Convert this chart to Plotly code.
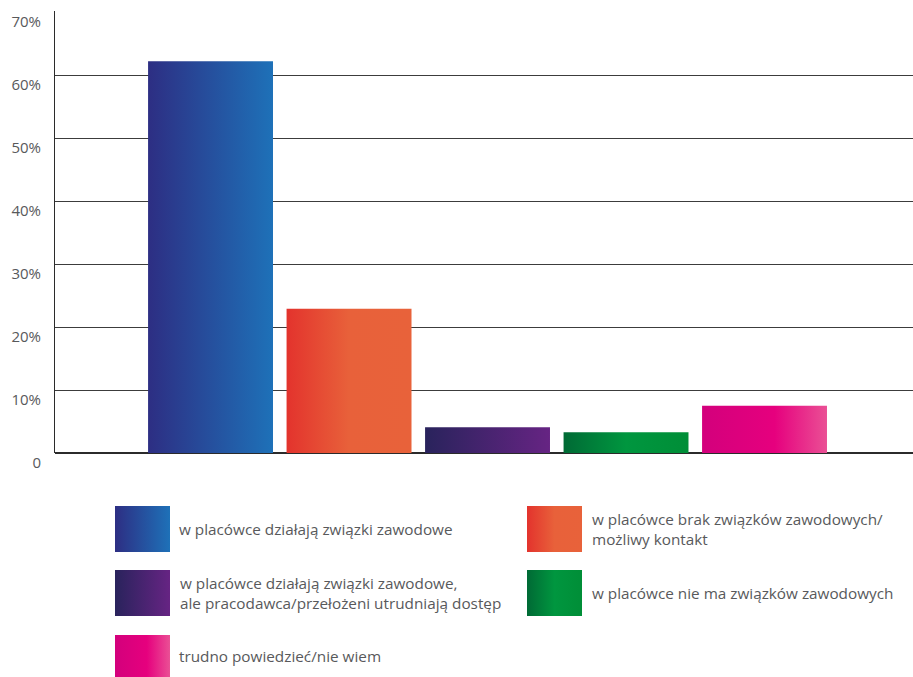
import plotly.graph_objects as go

# ---- data ----
categories = [
    "w placówce działają związki zawodowe",
    "w placówce brak związków zawodowych/<br>możliwy kontakt",
    "w placówce działają związki zawodowe,<br>ale pracodawca/przełożeni utrudniają dostęp",
    "w placówce nie ma związków zawodowych",
    "trudno powiedzieć/nie wiem",
]
values = [62.2, 22.9, 4.1, 3.3, 7.5]
gradients = [
    [[0, "#2d2e83"], [1, "#1e71b8"]],
    [[0, "#e3332d"], [0.5, "#e8613a"], [1, "#e8623a"]],
    [[0, "#29235c"], [1, "#662483"]],
    [[0, "#006a35"], [0.5, "#00963f"], [1, "#008e37"]],
    [[0, "#d3007c"], [0.58, "#e6007e"], [1, "#ea5095"]],
]
tick_vals = [0, 10, 20, 30, 40, 50, 60, 70]
tick_text = ["0", "10%", "20%", "30%", "40%", "50%", "60%", "70%"]

# ---- layout constants (pixels) ----
W, H = 913, 677
half = 0.451
FONT = "Open Sans"
GREY = "#58595b"

fig = go.Figure()

for i, (v, cs) in enumerate(zip(values, gradients)):
    fig.add_trace(go.Scatter(
        x=[i - half, i + half, i + half, i - half, i - half],
        y=[0, 0, v, v, 0],
        mode="lines", fill="toself",
        fillgradient=dict(type="horizontal", colorscale=cs),
        line=dict(width=0, color="rgba(0,0,0,0)"),
        hoverinfo="skip", showlegend=False,
        xaxis="x", yaxis="y",
    ))

# legend swatches in pixel-space overlay axes
legend_pos = [  # (x0, y0, x1, y1, text_x)
    (115, 506, 170, 552, 177),
    (527, 506, 582, 552, 590),
    (115, 570, 170, 616, 178),
    (527, 570, 582, 616, 590),
    (115, 635, 170, 677, 177),
]
for (x0, y0, x1, y1, tx), cs, label in zip(legend_pos, gradients, categories):
    fig.add_trace(go.Scatter(
        x=[x0, x1, x1, x0, x0], y=[y1, y1, y0, y0, y1],
        mode="lines", fill="toself",
        fillgradient=dict(type="horizontal", colorscale=cs),
        line=dict(width=0, color="rgba(0,0,0,0)"),
        hoverinfo="skip", showlegend=False,
        xaxis="x2", yaxis="y2",
    ))
    fig.add_annotation(
        x=tx, y=(y0 + y1) / 2, xref="x2", yref="y2",
        text=label, showarrow=False, xanchor="left", yanchor="middle",
        align="left", font=dict(family=FONT, size=15.3, color=GREY),
    )

top_px, bot_px, left_px = 12, 453, 55
fig.update_layout(
    width=W, height=H,
    margin=dict(l=0, r=0, t=0, b=0, autoexpand=False),
    paper_bgcolor="white", plot_bgcolor="rgba(0,0,0,0)",
    font=dict(family=FONT, color=GREY),
    xaxis=dict(
        domain=[left_px / W, 1], range=[-1.123, 5.072],
        showgrid=False, zeroline=False, showticklabels=False,
        showline=False, fixedrange=True, automargin=False,
    ),
    yaxis=dict(
        domain=[(H - bot_px) / H, (H - (top_px - 1)) / H],
        range=[0, 70 + 70 / 441],
        tickvals=tick_vals, ticktext=tick_text,
        showgrid=True, gridcolor="#3c3c3c", gridwidth=1,
        zeroline=True, zerolinecolor="#2b2b2b", zerolinewidth=2,
        showline=True, linecolor="#2b2b2b", linewidth=1,
        ticks="", ticklabelstandoff=10, ticklabelshift=10,
        tickfont=dict(family=FONT, size=15, color=GREY),
        fixedrange=True, automargin=False,
    ),
    xaxis2=dict(domain=[0, 1], range=[0, W], visible=False,
                anchor="y2", fixedrange=True, automargin=False),
    yaxis2=dict(domain=[0, 1], range=[H, 0], visible=False,
                anchor="x2", fixedrange=True, automargin=False),
)

fig.write_html(
    "out.html",
    config={"displayModeBar": False},
    post_script="document.body.style.margin='0';document.body.style.overflow='hidden';",
)
